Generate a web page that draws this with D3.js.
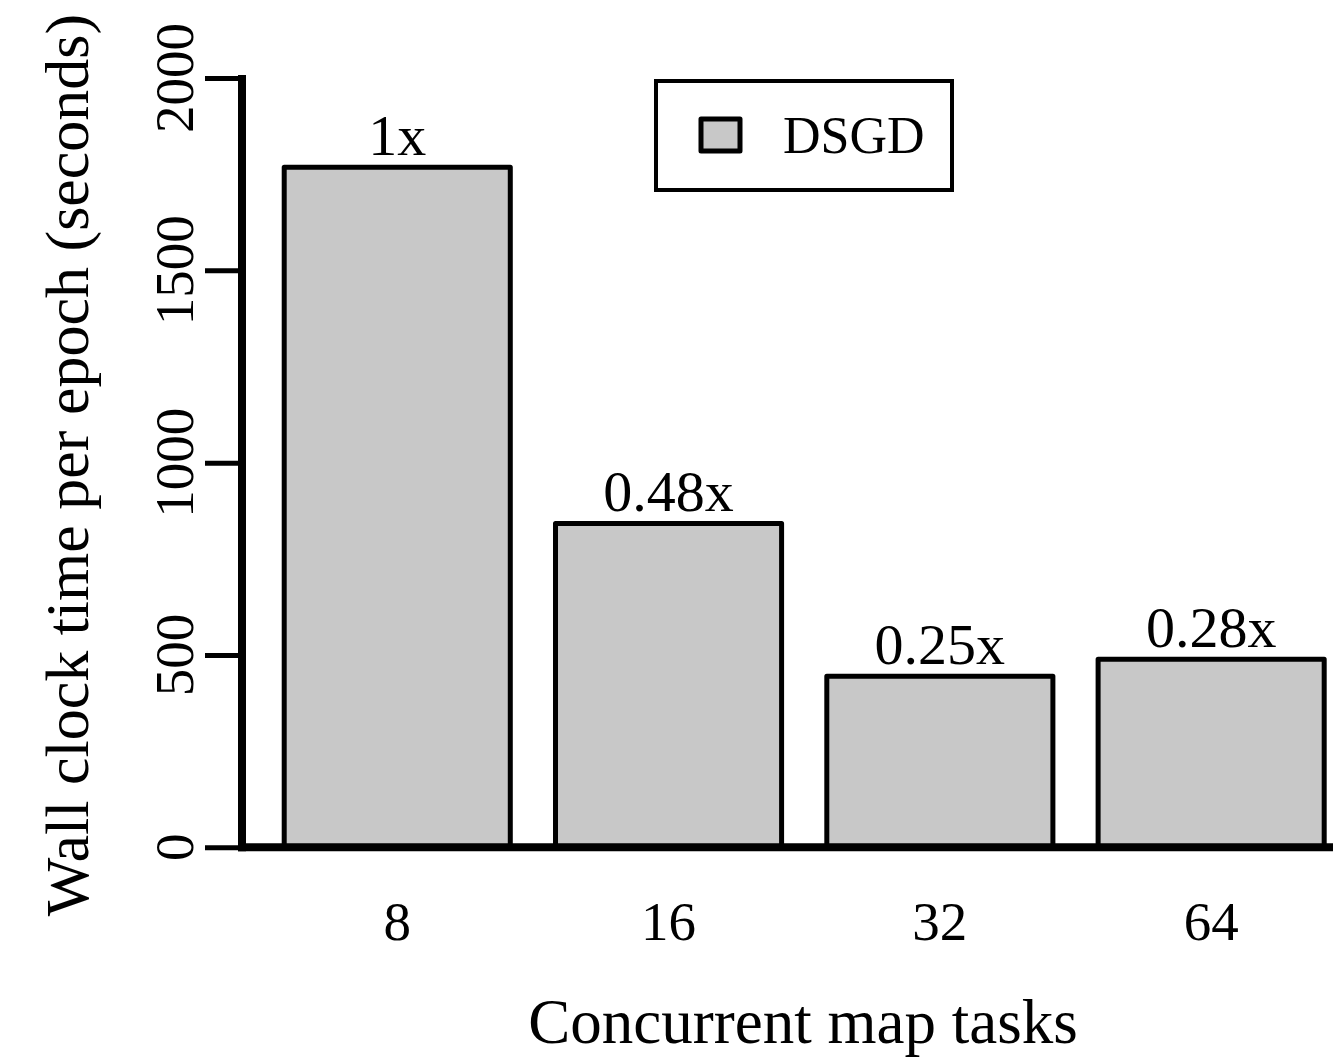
<!DOCTYPE html>
<html>
<head>
<meta charset="utf-8">
<script src="https://cdn.jsdelivr.net/npm/d3@7"></script>
<style>
html,body{margin:0;padding:0;background:#fff;}
text{font-family:"Liberation Serif","Times New Roman",serif;fill:#000;}
</style>
</head>
<body>
<svg id="chart" width="1333" height="1058"></svg>
<script>
const categories = ["8", "16", "32", "64"];
const values = [1768, 842, 445, 489];
const speedupLabels = ["1x", "0.48x", "0.25x", "0.28x"];
const yTicks = [0, 500, 1000, 1500, 2000];
const seriesName = "DSGD";

const svg = d3.select("#chart");
svg.append("rect").attr("width", 1333).attr("height", 1058).attr("fill", "#fff");

const y = d3.scaleLinear().domain([0, 2000]).range([847.3, 78]);
const x = d3.scaleBand().domain(categories)
  .range([261.6, 1346.8]).paddingInner(1/6).paddingOuter(1/12);

const fill = "#c8c8c8";

// bars
svg.append("g").selectAll("rect").data(values).join("rect")
  .attr("x", (d, i) => x(categories[i]))
  .attr("y", d => y(d))
  .attr("width", x.bandwidth())
  .attr("height", d => y(0) - y(d))
  .attr("fill", fill)
  .attr("stroke", "#000")
  .attr("stroke-width", 5)
  .attr("stroke-linejoin", "round");

// bar labels
svg.append("g").selectAll("text").data(values).join("text")
  .attr("x", (d, i) => x(categories[i]) + x.bandwidth() / 2)
  .attr("y", d => y(d) - 12)
  .attr("text-anchor", "middle")
  .attr("font-size", 58)
  .text((d, i) => speedupLabels[i]);

// y axis
const yAxis = d3.axisLeft(y).tickValues(yTicks).tickSize(37).tickFormat("");
const gy = svg.append("g").attr("transform", "translate(242,0)").call(yAxis);
gy.select(".domain").remove();
gy.selectAll(".tick line").attr("stroke", "#000").attr("stroke-width", 5);
svg.append("line").attr("x1", 242).attr("x2", 242)
  .attr("y1", y(2000) - 3).attr("y2", y(0) + 4)
  .attr("stroke", "#000").attr("stroke-width", 8);

// y tick labels (rotated)
svg.append("g").selectAll("text").data(yTicks).join("text")
  .attr("transform", d => `translate(193,${y(d)}) rotate(-90)`)
  .attr("text-anchor", "middle")
  .attr("font-size", 55)
  .text(d => d);

// x axis line
svg.append("line").attr("x1", 238).attr("x2", 1340)
  .attr("y1", y(0)).attr("y2", y(0))
  .attr("stroke", "#000").attr("stroke-width", 8);

// x tick labels
const xAxis = d3.axisBottom(x).tickSize(0).tickPadding(0);
const gx = svg.append("g").call(xAxis);
gx.select(".domain").remove();
gx.selectAll(".tick text")
  .attr("y", 940).attr("dy", null)
  .attr("font-size", 55)
  .attr("fill", "#000")
  .style("font-family", '"Liberation Serif","Times New Roman",serif');

// axis titles
svg.append("text")
  .attr("transform", "translate(88,465) rotate(-90)")
  .attr("text-anchor", "middle")
  .attr("font-size", 62)
  .text("Wall clock time per epoch (seconds)");

svg.append("text")
  .attr("x", 803).attr("y", 1043)
  .attr("text-anchor", "middle")
  .attr("font-size", 63)
  .text("Concurrent map tasks");

// legend
const lg = svg.append("g");
lg.append("rect").attr("x", 656).attr("y", 81).attr("width", 296).attr("height", 109)
  .attr("fill", "#fff").attr("stroke", "#000").attr("stroke-width", 4);
lg.append("rect").attr("x", 701).attr("y", 119).attr("width", 39).attr("height", 32)
  .attr("fill", fill).attr("stroke", "#000").attr("stroke-width", 5)
  .attr("stroke-linejoin", "round");
lg.append("text").attr("x", 783).attr("y", 153)
  .attr("font-size", 52)
  .text(seriesName);
</script>
</body>
</html>
